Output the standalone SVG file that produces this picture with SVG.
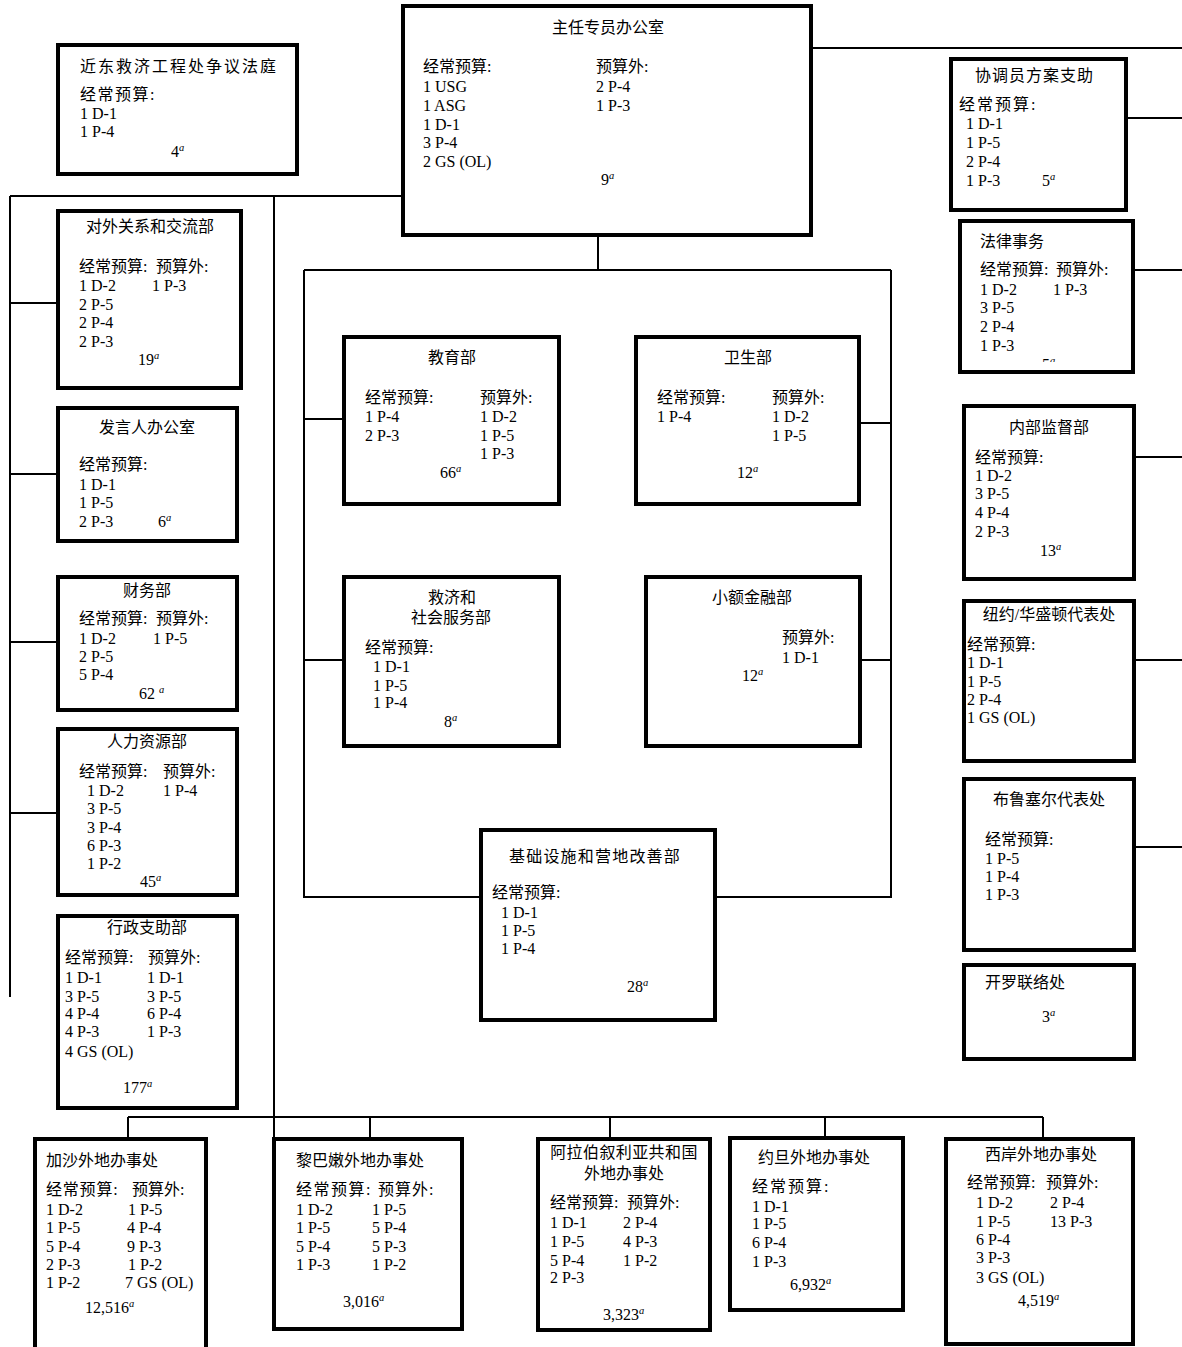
<svg xmlns="http://www.w3.org/2000/svg" width="1182" height="1347" viewBox="0 0 1182 1347">
<style>
.box{fill:#fff;stroke:#000;stroke-width:4}
.ln{fill:none;stroke:#000;stroke-width:2}
text{font-family:"Liberation Serif","Noto Sans CJK SC",serif;font-size:16px;fill:#000}
.c{font-size:16px}
.m{text-anchor:middle}
.s{font-size:10.5px;font-style:italic}
</style>
<defs>
<clipPath id="clipLegal"><rect x="960" y="221" width="173" height="141"/></clipPath>
</defs>
<rect x="0" y="0" width="1182" height="1347" fill="#fff"/>
<g id="connectors">
<path class="ln" d="M812,48 H1182"/>
<path class="ln" d="M10,196 H403"/>
<path class="ln" d="M10,196 V997"/>
<path class="ln" d="M274,196 V1137"/>
<path class="ln" d="M10,303 H58 M10,474 H58 M10,642 H58 M10,813 H58"/>
<path class="ln" d="M598,235 V270"/>
<path class="ln" d="M304,270 H891 M304,270 V897 H481 M891,270 V897 H715"/>
<path class="ln" d="M304,419 H344 M304,660 H344 M859,423 H891 M860,660 H891"/>
<path class="ln" d="M1126,118 H1182 M1133,270 H1182 M1134,457 H1182 M1134,660 H1182 M1134,847 H1182"/>
<path class="ln" d="M128,1117 H1043 M128,1117 V1139 M370,1117 V1139 M610,1117 V1139 M825,1117 V1138 M1043,1117 V1139"/>
</g>
<g id="tribunal">
<rect class="box" x="58" y="45" width="239" height="129"/>
<text class="c" x="80" y="72" letter-spacing="2">近东救济工程处争议法庭</text>
<text class="c" x="80" y="100" letter-spacing="1.5">经常预算:</text>
<text x="80" y="119">1 D-1</text>
<text x="80" y="137">1 P-4</text>
<text x="171" y="157">4<tspan class="s" dy="-6">a</tspan></text>
</g>
<g id="commissioner">
<rect class="box" x="403" y="6" width="408" height="229"/>
<text class="c m" x="608" y="33">主任专员办公室</text>
<text class="c" x="423" y="72">经常预算:</text>
<text class="c" x="596" y="72">预算外:</text>
<text x="423" y="92">1 USG</text>
<text x="423" y="111">1 ASG</text>
<text x="423" y="130">1 D-1</text>
<text x="423" y="148">3 P-4</text>
<text x="423" y="167">2 GS (OL)</text>
<text x="596" y="92">2 P-4</text>
<text x="596" y="111">1 P-3</text>
<text x="601" y="185">9<tspan class="s" dy="-6">a</tspan></text>
</g>
<g id="external-relations">
<rect class="box" x="58" y="211" width="183" height="177"/>
<text class="c m" x="150" y="232">对外关系和交流部</text>
<text class="c" x="79" y="272">经常预算:</text>
<text class="c" x="156" y="272">预算外:</text>
<text x="79" y="291">1 D-2</text>
<text x="79" y="310">2 P-5</text>
<text x="79" y="328">2 P-4</text>
<text x="79" y="347">2 P-3</text>
<text x="152" y="291">1 P-3</text>
<text x="138" y="365">19<tspan class="s" dy="-6">a</tspan></text>
</g>
<g id="spokesperson">
<rect class="box" x="58" y="408" width="179" height="133"/>
<text class="c m" x="147" y="433">发言人办公室</text>
<text class="c" x="79" y="470">经常预算:</text>
<text x="79" y="490">1 D-1</text>
<text x="79" y="508">1 P-5</text>
<text x="79" y="527">2 P-3</text>
<text x="158" y="527">6<tspan class="s" dy="-6">a</tspan></text>
</g>
<g id="finance">
<rect class="box" x="58" y="577" width="179" height="133"/>
<text class="c m" x="147" y="596">财务部</text>
<text class="c" x="79" y="624">经常预算:</text>
<text class="c" x="156" y="624">预算外:</text>
<text x="79" y="644">1 D-2</text>
<text x="79" y="662">2 P-5</text>
<text x="79" y="680">5 P-4</text>
<text x="153" y="644">1 P-5</text>
<text x="139" y="699">62 <tspan class="s" dy="-6">a</tspan></text>
</g>
<g id="human-resources">
<rect class="box" x="58" y="729" width="179" height="166"/>
<text class="c m" x="147" y="747">人力资源部</text>
<text class="c" x="79" y="777">经常预算:</text>
<text class="c" x="163" y="777">预算外:</text>
<text x="87" y="796">1 D-2</text>
<text x="87" y="814">3 P-5</text>
<text x="87" y="833">3 P-4</text>
<text x="87" y="851">6 P-3</text>
<text x="87" y="869">1 P-2</text>
<text x="163" y="796">1 P-4</text>
<text x="140" y="887">45<tspan class="s" dy="-6">a</tspan></text>
</g>
<g id="administrative-support">
<rect class="box" x="58" y="916" width="179" height="192"/>
<text class="c m" x="147" y="933">行政支助部</text>
<text class="c" x="65" y="963">经常预算:</text>
<text class="c" x="148" y="963">预算外:</text>
<text x="65" y="983">1 D-1</text>
<text x="65" y="1002">3 P-5</text>
<text x="65" y="1019">4 P-4</text>
<text x="65" y="1037">4 P-3</text>
<text x="65" y="1057">4 GS (OL)</text>
<text x="147" y="983">1 D-1</text>
<text x="147" y="1002">3 P-5</text>
<text x="147" y="1019">6 P-4</text>
<text x="147" y="1037">1 P-3</text>
<text x="123" y="1093">177<tspan class="s" dy="-6">a</tspan></text>
</g>
<g id="coordinator">
<rect class="box" x="951" y="59" width="175" height="151"/>
<text class="c" x="975" y="81" letter-spacing="1">协调员方案支助</text>
<text class="c" x="959" y="110" letter-spacing="2">经常预算:</text>
<text x="966" y="129">1 D-1</text>
<text x="966" y="148">1 P-5</text>
<text x="966" y="167">2 P-4</text>
<text x="966" y="186">1 P-3</text>
<text x="1042" y="186">5<tspan class="s" dy="-6">a</tspan></text>
</g>
<g id="legal">
<rect class="box" x="960" y="221" width="173" height="151"/>
<text class="c" x="980" y="247">法律事务</text>
<text class="c" x="980" y="275">经常预算:</text>
<text class="c" x="1056" y="275">预算外:</text>
<text x="980" y="295">1 D-2</text>
<text x="980" y="313">3 P-5</text>
<text x="980" y="332">2 P-4</text>
<text x="980" y="351">1 P-3</text>
<text x="1053" y="295">1 P-3</text>
<text x="1042" y="370" clip-path="url(#clipLegal)">5<tspan class="s" dy="-6">a</tspan></text>
</g>
<g id="oversight">
<rect class="box" x="964" y="406" width="170" height="173"/>
<text class="c m" x="1049" y="433">内部监督部</text>
<text class="c" x="975" y="463">经常预算:</text>
<text x="975" y="481">1 D-2</text>
<text x="975" y="499">3 P-5</text>
<text x="975" y="518">4 P-4</text>
<text x="975" y="537">2 P-3</text>
<text x="1040" y="556">13<tspan class="s" dy="-6">a</tspan></text>
</g>
<g id="new-york">
<rect class="box" x="964" y="601" width="170" height="160"/>
<text class="c m" x="1049" y="620">纽约/华盛顿代表处</text>
<text class="c" x="967" y="650">经常预算:</text>
<text x="967" y="668">1 D-1</text>
<text x="967" y="687">1 P-5</text>
<text x="967" y="705">2 P-4</text>
<text x="967" y="723">1 GS (OL)</text>
</g>
<g id="brussels">
<rect class="box" x="964" y="779" width="170" height="171"/>
<text class="c" x="993" y="805">布鲁塞尔代表处</text>
<text class="c" x="985" y="845">经常预算:</text>
<text x="985" y="864">1 P-5</text>
<text x="985" y="882">1 P-4</text>
<text x="985" y="900">1 P-3</text>
</g>
<g id="cairo">
<rect class="box" x="964" y="965" width="170" height="94"/>
<text class="c" x="985" y="988">开罗联络处</text>
<text x="1042" y="1022">3<tspan class="s" dy="-6">a</tspan></text>
</g>
<g id="education">
<rect class="box" x="344" y="337" width="215" height="167"/>
<text class="c m" x="452" y="363">教育部</text>
<text class="c" x="365" y="403">经常预算:</text>
<text class="c" x="480" y="403">预算外:</text>
<text x="365" y="422">1 P-4</text>
<text x="365" y="441">2 P-3</text>
<text x="480" y="422">1 D-2</text>
<text x="480" y="441">1 P-5</text>
<text x="480" y="459">1 P-3</text>
<text x="440" y="478">66<tspan class="s" dy="-6">a</tspan></text>
</g>
<g id="health">
<rect class="box" x="636" y="337" width="223" height="167"/>
<text class="c m" x="748" y="363">卫生部</text>
<text class="c" x="657" y="403">经常预算:</text>
<text class="c" x="772" y="403">预算外:</text>
<text x="657" y="422">1 P-4</text>
<text x="772" y="422">1 D-2</text>
<text x="772" y="441">1 P-5</text>
<text x="737" y="478">12<tspan class="s" dy="-6">a</tspan></text>
</g>
<g id="relief">
<rect class="box" x="344" y="577" width="215" height="169"/>
<text class="c m" x="452" y="603">救济和</text>
<text class="c m" x="451" y="623">社会服务部</text>
<text class="c" x="365" y="653">经常预算:</text>
<text x="373" y="672">1 D-1</text>
<text x="373" y="691">1 P-5</text>
<text x="373" y="708">1 P-4</text>
<text x="444" y="727">8<tspan class="s" dy="-6">a</tspan></text>
</g>
<g id="microfinance">
<rect class="box" x="646" y="577" width="214" height="169"/>
<text class="c m" x="752" y="603">小额金融部</text>
<text class="c" x="782" y="643">预算外:</text>
<text x="782" y="663">1 D-1</text>
<text x="742" y="681">12<tspan class="s" dy="-6">a</tspan></text>
</g>
<g id="infrastructure">
<rect class="box" x="481" y="830" width="234" height="190"/>
<text class="c" x="509" y="862" letter-spacing="1.2">基础设施和营地改善部</text>
<text class="c" x="492" y="898">经常预算:</text>
<text x="501" y="918">1 D-1</text>
<text x="501" y="936">1 P-5</text>
<text x="501" y="954">1 P-4</text>
<text x="627" y="992">28<tspan class="s" dy="-6">a</tspan></text>
</g>
<g id="gaza">
<path class="box" d="M35,1352 V1139 H206 V1352"/>
<text class="c" x="46" y="1166">加沙外地办事处</text>
<text class="c" x="46" y="1195" letter-spacing="0.8">经常预算:</text>
<text class="c" x="132" y="1195">预算外:</text>
<text x="46" y="1215">1 D-2</text>
<text x="46" y="1233">1 P-5</text>
<text x="46" y="1252">5 P-4</text>
<text x="46" y="1270">2 P-3</text>
<text x="46" y="1288">1 P-2</text>
<text x="128" y="1215">1 P-5</text>
<text x="127" y="1233">4 P-4</text>
<text x="127" y="1252">9 P-3</text>
<text x="128" y="1270">1 P-2</text>
<text x="125" y="1288">7 GS (OL)</text>
<text x="85" y="1313">12,516<tspan class="s" dy="-6">a</tspan></text>
</g>
<g id="lebanon">
<rect class="box" x="274" y="1139" width="188" height="190"/>
<text class="c" x="296" y="1166">黎巴嫩外地办事处</text>
<text class="c" x="296" y="1195" letter-spacing="1.5">经常预算:</text>
<text class="c" x="378" y="1195" letter-spacing="1">预算外:</text>
<text x="296" y="1215">1 D-2</text>
<text x="296" y="1233">1 P-5</text>
<text x="296" y="1252">5 P-4</text>
<text x="296" y="1270">1 P-3</text>
<text x="372" y="1215">1 P-5</text>
<text x="372" y="1233">5 P-4</text>
<text x="372" y="1252">5 P-3</text>
<text x="372" y="1270">1 P-2</text>
<text x="343" y="1307">3,016<tspan class="s" dy="-6">a</tspan></text>
</g>
<g id="syria">
<rect class="box" x="538" y="1139" width="172" height="191"/>
<text class="c m" x="624" y="1158" letter-spacing="0.4">阿拉伯叙利亚共和国</text>
<text class="c m" x="624" y="1179">外地办事处</text>
<text class="c" x="550" y="1208">经常预算:</text>
<text class="c" x="627" y="1208">预算外:</text>
<text x="550" y="1228">1 D-1</text>
<text x="550" y="1247">1 P-5</text>
<text x="550" y="1266">5 P-4</text>
<text x="550" y="1283">2 P-3</text>
<text x="623" y="1228">2 P-4</text>
<text x="623" y="1247">4 P-3</text>
<text x="623" y="1266">1 P-2</text>
<text x="603" y="1320">3,323<tspan class="s" dy="-6">a</tspan></text>
</g>
<g id="jordan">
<rect class="box" x="730" y="1138" width="173" height="172"/>
<text class="c" x="758" y="1163">约旦外地办事处</text>
<text class="c" x="752" y="1192" letter-spacing="2">经常预算:</text>
<text x="752" y="1212">1 D-1</text>
<text x="752" y="1229">1 P-5</text>
<text x="752" y="1248">6 P-4</text>
<text x="752" y="1267">1 P-3</text>
<text x="790" y="1290">6,932<tspan class="s" dy="-6">a</tspan></text>
</g>
<g id="west-bank">
<rect class="box" x="946" y="1139" width="187" height="205"/>
<text class="c" x="985" y="1160">西岸外地办事处</text>
<text class="c" x="967" y="1188">经常预算:</text>
<text class="c" x="1046" y="1188">预算外:</text>
<text x="976" y="1208">1 D-2</text>
<text x="976" y="1227">1 P-5</text>
<text x="976" y="1245">6 P-4</text>
<text x="976" y="1263">3 P-3</text>
<text x="976" y="1283">3 GS (OL)</text>
<text x="1050" y="1208">2 P-4</text>
<text x="1050" y="1227">13 P-3</text>
<text x="1018" y="1306">4,519<tspan class="s" dy="-6">a</tspan></text>
</g>
</svg>
